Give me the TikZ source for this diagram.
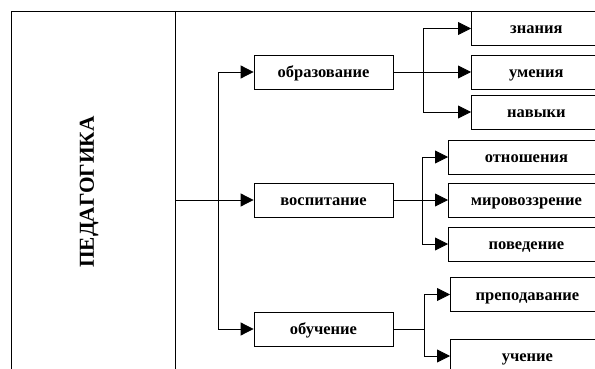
\documentclass[tikz,border=0pt]{standalone}
\usepackage{fontspec}
\setmainfont{Liberation Serif}
\usetikzlibrary{arrows.meta}
\begin{document}
\begin{tikzpicture}[x=1pt,y=-1pt,
  line width=0.8pt,
  box/.style={draw, minimum height=34pt, inner sep=0pt, text height=11pt, text depth=-2pt, font=\fontsize{16.5}{18}\selectfont\bfseries},
  midbox/.style={box, minimum width=139pt},
  rbox/.style={box, anchor=west},
  arr/.style={-{Triangle[length=13pt,width=13pt]}}]
\useasboundingbox (0,0) rectangle (595,369);
\begin{scope}
\clip (0,0) rectangle (595,369);
% frame
\draw (11,420) -- (11,11) -- (620,11);
\draw (175,11) -- (175,420);
\node[rotate=90, font=\fontsize{21.3}{23}\selectfont\bfseries] (ped) at (89,192) {ПЕДАГОГИКА};
\coordinate (pedR) at (175,200);
% middle boxes
\node[midbox] (obr) at (323.5,72) {образование};
\node[midbox] (vos) at (323.5,200) {воспитание};
\node[midbox] (obu) at (323.5,329) {обучение};
% right boxes
\node[rbox, minimum width=130pt] (zn) at (471,28.5) {знания};
\node[rbox, minimum width=130pt] (um) at (471,72) {умения};
\node[rbox, minimum width=130pt] (nav) at (471,112) {навыки};
\node[rbox, minimum width=156pt] (otn) at (448,157) {отношения};
\node[rbox, minimum width=156pt] (mir) at (448,200) {мировоззрение};
\node[rbox, minimum width=156pt] (pov) at (448,244) {поведение};
\node[rbox, minimum width=154pt] (pre) at (450,294.5) {преподавание};
\node[rbox, minimum width=154pt] (uch) at (450,356) {учение};
% trunk
\coordinate (j0) at (218,200);
\draw (pedR) -- (j0);
\draw[arr] (j0) -- (vos.west);
\draw[arr] (j0) |- (obr.west);
\draw[arr] (j0) |- (obu.west);
% branches
\coordinate (j1) at (423,72);
\draw (obr.east) -- (j1);
\draw[arr] (j1) -- (um.west);
\draw[arr] (j1) |- (zn.west);
\draw[arr] (j1) |- (nav.west);
\coordinate (j2) at (422,200);
\draw (vos.east) -- (j2);
\draw[arr] (j2) -- (mir.west);
\draw[arr] (j2) |- (otn.west);
\draw[arr] (j2) |- (pov.west);
\coordinate (j3) at (424,329);
\draw (obu.east) -- (j3);
\draw[arr] (j3) |- (pre.west);
\draw[arr] (j3) |- (uch.west);
\end{scope}
\end{tikzpicture}
\end{document}
